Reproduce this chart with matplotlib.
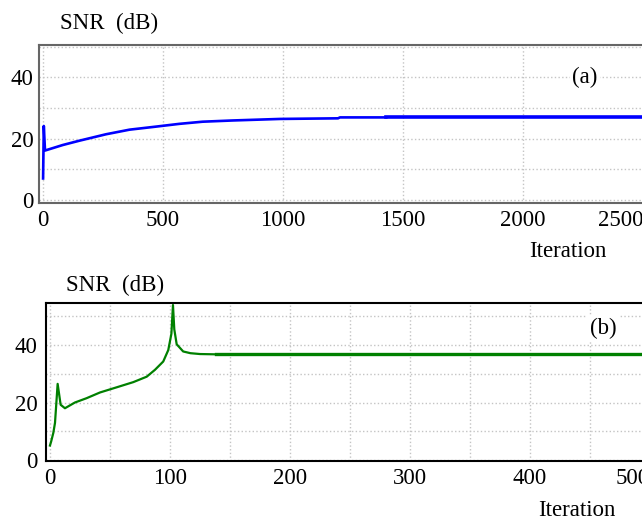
import matplotlib
matplotlib.use('Agg')
import matplotlib.pyplot as plt
from matplotlib.ticker import MultipleLocator

plt.rcParams['font.family'] = ['Liberation Serif', 'DejaVu Serif']

# (a) SNR vs iteration, long run
iter_a = [0, 3, 8, 82, 151, 262, 360, 471, 568, 665, 790, 988, 1229, 1237, 1430, 2700]
snr_a = [7.0, 24.1, 16.1, 17.9, 19.3, 21.4, 22.9, 23.9, 24.8, 25.5, 25.9, 26.4,
         26.6, 26.9, 26.9, 26.9]

# (b) SNR vs iteration, short run
iter_b = [0, 1, 2.8, 4.2, 6.4, 8.9, 12.5, 20.8, 30.5, 41.7, 55.6, 69.4, 80.6, 87.5,
          94.4, 98.6, 101.2, 102.5, 103.6, 105.6, 111, 117, 125, 138, 530]
snr_b = [5.0, 6.4, 9.4, 12.9, 26.5, 19.2, 18.0, 20.0, 21.5, 23.5, 25.3, 27.1, 29.0,
         31.4, 34.3, 38.3, 44.0, 54.0, 45.5, 40.3, 37.8, 37.2, 36.9, 36.8, 36.8]

W, H = 642, 523
fig = plt.figure(figsize=(W / 100, H / 100), dpi=100)

FS = 16.5


def setup_axes(ax, spine_color, ypad):
    ax.tick_params(which='both', length=0, labelsize=FS)
    ax.tick_params(axis='x', pad=5)
    ax.tick_params(axis='y', pad=ypad)
    for s in ax.spines.values():
        s.set_color(spine_color)
        s.set_linewidth(1.5)
    ax.grid(True, which='both', linestyle=':', color='#c4c4c4', linewidth=1.0)
    ax.set_axisbelow(True)


def last_label_right(ax):
    # the last x tick label sits against the right edge
    fig.canvas.draw()
    labels = [t for t in ax.get_xticklabels()
              if ax.get_xlim()[0] <= t.get_position()[0] <= ax.get_xlim()[1]]
    labels[-1].set_horizontalalignment('right')


# top panel
ax1 = fig.add_axes([39 / W, 1 - 203 / H, (680 - 39) / W, 158 / H])
setup_axes(ax1, '#666666', 4)
ax1.plot(iter_a[:15], snr_a[:15], color='#0000ff', linewidth=1.9)
ax1.plot(iter_a[14:], snr_a[14:], color='#0000ff', linewidth=2.6)
ax1.set_xlim(-17, 2654)
ax1.set_ylim(-1, 50.5)
ax1.xaxis.set_major_locator(MultipleLocator(500))
ax1.yaxis.set_major_locator(MultipleLocator(20))
ax1.yaxis.set_minor_locator(MultipleLocator(10))
fig.text(109 / W, 1 - 23 / H, 'SNR  (dB)', fontsize=FS, ha='center', va='center')
fig.text(568 / W, 1 - 252 / H, 'Iteration', fontsize=FS, ha='center', va='center')
fig.text(585 / W, 1 - 77 / H, '(a)', fontsize=FS, ha='center', va='center',
         bbox=dict(facecolor='white', edgecolor='none', pad=2))

# bottom panel
ax2 = fig.add_axes([46 / W, 1 - 461 / H, (680 - 46) / W, 158 / H])
setup_axes(ax2, 'black', 6)
ax2.plot(iter_b[:24], snr_b[:24], color='#008000', linewidth=1.6)
ax2.plot(iter_b[23:], snr_b[23:], color='#008000', linewidth=2.4)
ax2.set_xlim(-3.3, 525)
ax2.set_ylim(-0.4, 54.7)
ax2.xaxis.set_major_locator(MultipleLocator(100))
ax2.xaxis.set_minor_locator(MultipleLocator(50))
ax2.yaxis.set_major_locator(MultipleLocator(20))
ax2.yaxis.set_minor_locator(MultipleLocator(10))
fig.text(115 / W, 1 - 285 / H, 'SNR  (dB)', fontsize=FS, ha='center', va='center')
fig.text(577 / W, 1 - 510 / H, 'Iteration', fontsize=FS, ha='center', va='center')
fig.text(603 / W, 1 - 328 / H, '(b)', fontsize=FS, ha='center', va='center',
         bbox=dict(facecolor='white', edgecolor='none', pad=2))

last_label_right(ax1)
last_label_right(ax2)

fig.savefig('out.png', dpi=100)
